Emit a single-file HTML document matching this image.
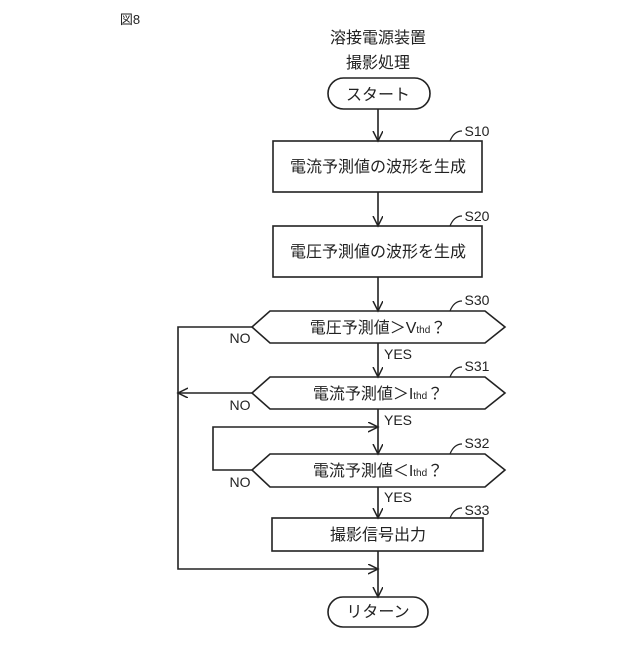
<!DOCTYPE html>
<html><head><meta charset="utf-8"><style>body{margin:0;background:#fff}</style></head><body>
<svg width="640" height="640" viewBox="0 0 640 640" xmlns="http://www.w3.org/2000/svg" font-family="Liberation Sans, Noto Sans CJK JP, sans-serif" fill="none" stroke="#222" stroke-width="1.6">
<defs><marker id="a" markerWidth="12" markerHeight="12" refX="10" refY="5" orient="auto" markerUnits="userSpaceOnUse"><path d="M0,0 L10,5 L0,10" fill="none" stroke="#222" stroke-width="1.5"/></marker></defs>
<g fill="#222" stroke="none" font-size="16" text-anchor="middle">
<text x="130" y="24" font-size="13">図8</text>
<text x="378" y="43">溶接電源装置</text>
<text x="378" y="68">撮影処理</text>
<text x="378" y="100">スタート</text>
<text x="378" y="172">電流予測値の波形を生成</text>
<text x="378" y="257">電圧予測値の波形を生成</text>
<text x="378" y="333">電圧予測値＞V<tspan font-size="10">thd</tspan>？</text>
<text x="378" y="399">電流予測値＞I<tspan font-size="10">thd</tspan>？</text>
<text x="378" y="476">電流予測値＜I<tspan font-size="10">thd</tspan>？</text>
<text x="378" y="540">撮影信号出力</text>
<text x="378" y="617">リターン</text>
<g font-size="14"><text x="240" y="343">NO</text><text x="240" y="410">NO</text><text x="240" y="487">NO</text>
<text x="398" y="359">YES</text><text x="398" y="425">YES</text><text x="398" y="502">YES</text>
<text x="477" y="136">S10</text><text x="477" y="221">S20</text><text x="477" y="305">S30</text><text x="477" y="371">S31</text><text x="477" y="448">S32</text><text x="477" y="515">S33</text></g>
</g>
<g stroke-width="1.2"><path d="M450,141 q4,-10 12,-10"/><path d="M450,226 q4,-10 12,-10"/><path d="M450,311 q4,-10 12,-10"/><path d="M450,377 q4,-10 12,-10"/><path d="M450,454 q4,-10 12,-10"/><path d="M450,518 q4,-10 12,-10"/></g>
<rect x="328" y="78" width="102" height="31" rx="15.5"/>
<rect x="273" y="141" width="209" height="51"/>
<rect x="273" y="226" width="209" height="51"/>
<path d="M270,311 H485 L505,327 L485,343 H270 L252,327 Z"/>
<path d="M270,377 H485 L505,393 L485,409 H270 L252,393 Z"/>
<path d="M270,454 H485 L505,470 L485,487 H270 L252,470 Z"/>
<rect x="272" y="518" width="211" height="33"/>
<rect x="328" y="597" width="100" height="30" rx="15"/>
<path d="M378,109 V141" marker-end="url(#a)"/>
<path d="M378,192 V226" marker-end="url(#a)"/>
<path d="M378,277 V311" marker-end="url(#a)"/>
<path d="M378,343 V377" marker-end="url(#a)"/>
<path d="M378,409 V454" marker-end="url(#a)"/>
<path d="M378,487 V518" marker-end="url(#a)"/>
<path d="M378,551 V597" marker-end="url(#a)"/>
<path d="M252,327 H178 V569 H378" marker-end="url(#a)"/>
<path d="M252,393 H178" marker-end="url(#a)"/>
<path d="M252,470 H213 V427 H378" marker-end="url(#a)"/>
</svg>
</body></html>
